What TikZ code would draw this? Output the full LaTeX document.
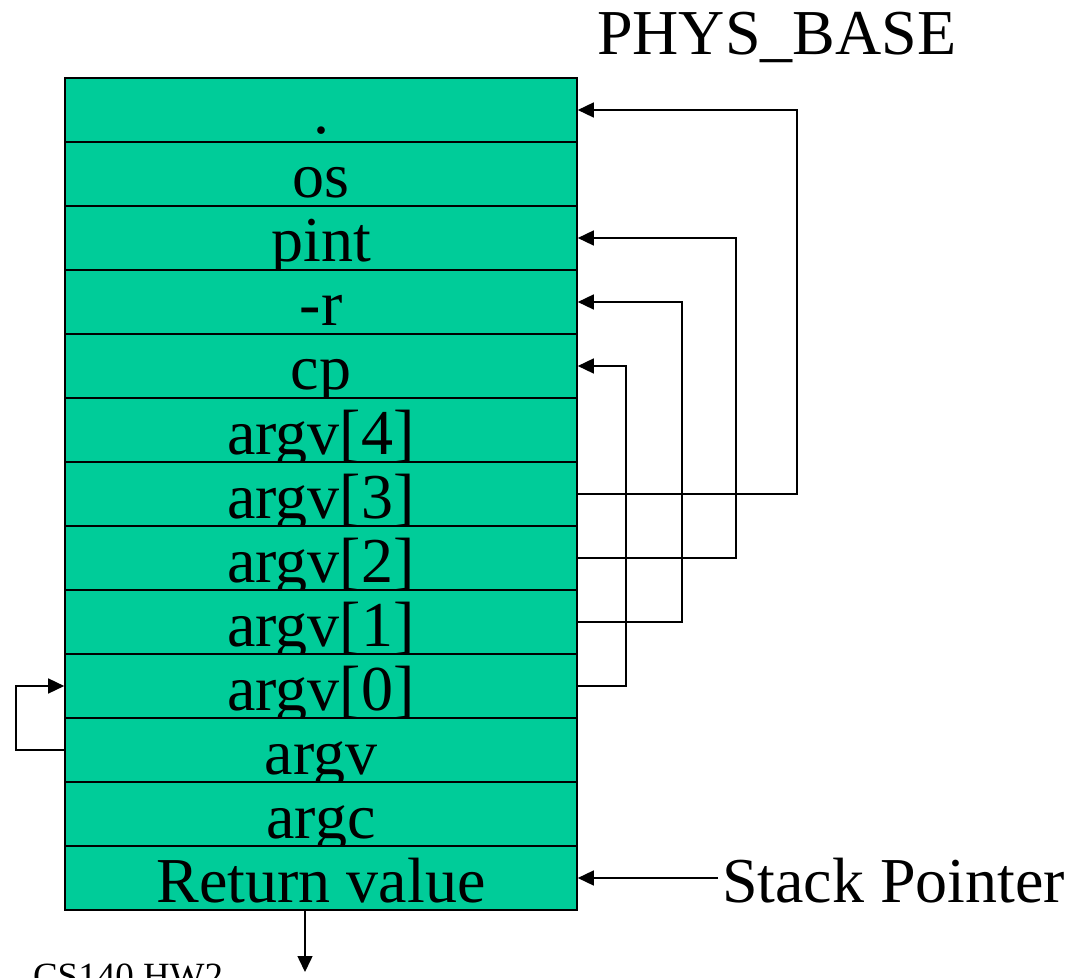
\documentclass[tikz,border=0pt]{standalone}
\usepackage{fontspec}
\setmainfont{Liberation Serif}
\usetikzlibrary{arrows.meta}
\begin{document}
\begin{tikzpicture}[x=.5pt,y=-.5pt,
  slot/.style={draw={rgb,255:red,0;green,0;blue,0},fill={rgb,255:red,0;green,204;blue,153},line width=0.8pt,
    minimum width=256pt,minimum height=32pt,inner sep=0pt,text height=28pt,text depth=4pt,
    font=\fontsize{32}{38.4}\selectfont},
  link/.style={draw={rgb,255:red,0;green,0;blue,0},line width=0.75pt,-{Triangle[length=8pt,width=7.5pt]}},
  bigtext/.style={inner sep=0pt,outer sep=0pt,font=\fontsize{32}{38.4}\selectfont}]
\path[use as bounding box] (0,0) rectangle (1081,978);
\foreach \txt [count=\i from 0] in {., os, pint, -r, cp, argv[4], argv[3], argv[2], argv[1], argv[0], argv, argc, Return value}
  \node[slot] (r\i) at (321,110+64*\i) {\txt};
\draw[link] (r6.east) -- ++(219,0) |- (r0.east);
\draw[link] (r7.east) -- ++(158,0) |- (r2.east);
\draw[link] (r8.east) -- ++(104,0) |- (r3.east);
\draw[link] (r9.east) -- ++(48,0) |- (r4.east);
\draw[link] (r10.west) -- ++(-48,0) |- (r9.west);
\node[bigtext,anchor=base west] (phys) at (597,55) {PHYS\_BASE};
\node[bigtext,anchor=base west] (sp) at (722,902) {Stack Pointer};
\draw[link] ([xshift=-2pt]sp.west |- r12.east) -- (r12.east);
\coordinate (out) at (305,972);
\draw[link] (r12.south -| out) -- (out);
\node[inner sep=0pt,outer sep=0pt,anchor=base west,font=\fontsize{18.5}{22.2}\selectfont] (tag) at (33,988) {CS140 HW2};
\end{tikzpicture}
\end{document}
